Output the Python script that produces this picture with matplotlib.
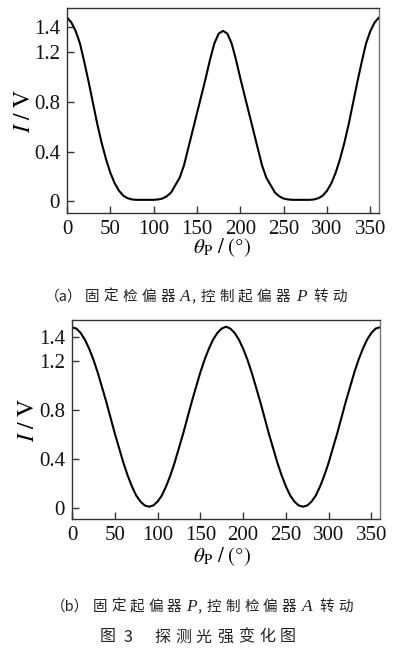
import matplotlib
matplotlib.use("Agg")
import matplotlib.pyplot as plt

plt.rcParams['mathtext.fontset'] = 'stix'
plt.rcParams['font.family'] = ['Liberation Serif', 'DejaVu Serif']

# ---- data ----
theta = list(range(0, 361, 5))

intensity_a = [1.48, 1.44, 1.37, 1.27, 1.12, 0.96, 0.79, 0.62, 0.47, 0.34,
               0.23, 0.145, 0.085, 0.045, 0.025, 0.015, 0.012, 0.012, 0.012, 0.012,
               0.012, 0.015, 0.022, 0.04, 0.07, 0.13, 0.19, 0.29, 0.43, 0.57,
               0.71, 0.85, 0.99, 1.14, 1.27, 1.35, 1.372, 1.35, 1.27, 1.14,
               0.99, 0.85, 0.71, 0.57, 0.43, 0.29, 0.19, 0.13, 0.07, 0.04,
               0.022, 0.015, 0.012, 0.012, 0.012, 0.012, 0.012, 0.015, 0.025, 0.045,
               0.085, 0.145, 0.23, 0.34, 0.47, 0.62, 0.79, 0.96, 1.12, 1.27,
               1.37, 1.44, 1.48]

intensity_b = [1.48, 1.47, 1.435, 1.38, 1.305, 1.215, 1.11, 0.99, 0.87, 0.74,
               0.61, 0.49, 0.37, 0.265, 0.175, 0.10, 0.05, 0.018, 0.008, 0.018,
               0.05, 0.10, 0.175, 0.265, 0.37, 0.49, 0.61, 0.74, 0.87, 0.99,
               1.11, 1.215, 1.305, 1.38, 1.435, 1.47, 1.485, 1.47, 1.435, 1.38,
               1.305, 1.215, 1.11, 0.99, 0.87, 0.74, 0.61, 0.49, 0.37, 0.265,
               0.175, 0.10, 0.05, 0.018, 0.008, 0.018, 0.05, 0.10, 0.175, 0.265,
               0.37, 0.49, 0.61, 0.74, 0.87, 0.99, 1.11, 1.215, 1.305, 1.38,
               1.435, 1.47, 1.48]

xticks = [0, 50, 100, 150, 200, 250, 300, 350]
yticks = [0, 0.4, 0.8, 1.2, 1.4]
ytick_labels = ["0", "0.4", "0.8", "1.2", "1.4"]

# caption tokens: (text, is_italic_latin)
caption_a = [("（a）", False), ("固", False), ("定", False), ("检", False), ("偏", False), ("器", False),
             ("A", True), (",", False), ("控", False), ("制", False), ("起", False), ("偏", False),
             ("器", False), ("P", True), ("转", False), ("动", False)]
caption_b = [("（b）", False), ("固", False), ("定", False), ("起", False), ("偏", False), ("器", False),
             ("P", True), (",", False), ("控", False), ("制", False), ("检", False), ("偏", False),
             ("器", False), ("A", True), ("转", False), ("动", False)]
fig_title = [("图", False), ("3", False), ("探", False), ("测", False), ("光", False),
             ("强", False), ("变", False), ("化", False), ("图", False)]

W, H = 395, 663
fig = plt.figure(figsize=(W / 100, H / 100), dpi=100)
fig.patch.set_facecolor('white')

def px_axes(left, top, right, bottom):
    return fig.add_axes([left / W, 1 - bottom / H, (right - left) / W, (bottom - top) / H])

ax_a = px_axes(67, 8, 379, 213)
ax_b = px_axes(72, 320, 380, 519)

setups = ((ax_a, intensity_a, (-0.094, 1.556), (25, 248), (67, 213, 312, 205)),
          (ax_b, intensity_b, (-0.093, 1.54), (29, 557), (72, 519, 308, 199)))
for ax, y, ylim, (ylx, xly), (l, b, w, h) in setups:
    ax.plot(theta, y, color='black', lw=1.5, solid_capstyle='round')
    ax.set_xlim(0, 360)
    ax.set_ylim(*ylim)
    ax.set_xticks(xticks)
    ax.set_yticks(yticks)
    ax.set_yticklabels(ytick_labels)
    ax.tick_params(axis='both', direction='in', length=5, width=1.0, color='#333333',
                   labelsize=15, pad=5, top=False, right=False, labelcolor='#111111')
    ax.tick_params(axis='y', pad=5)
    for s in ax.spines.values():
        s.set_color('#333333')
        s.set_linewidth(1.0)
    ax.spines['right'].set_color('#777777')
    ax.set_ylabel(r"$I\ /\ \mathrm{V}$", fontsize=17, va='center')
    ax.yaxis.set_label_coords((ylx - l) / w, 0.5)
    ax.set_xlabel(r"$\theta_{\mathrm{P}}\ /\ (\degree)$", fontsize=15, va='center')
    ax.xaxis.set_label_coords((222 - l) / w, -(xly - b) / h)

cjk = ['Noto Sans CJK SC', 'DejaVu Sans']
renderer = fig.canvas.get_renderer()

def spaced_text(tokens, cy, cx, fontsize, gap, extra_gaps=None):
    texts = []
    for tok, ital in tokens:
        if ital:
            t = fig.text(0, 1 - cy / H, tok, ha='left', va='center', fontsize=fontsize + 2,
                         family=['Liberation Serif'], style='italic', color='#222222')
        else:
            t = fig.text(0, 1 - cy / H, tok, ha='left', va='center', fontsize=fontsize,
                         family=cjk, color='#222222')
        texts.append(t)
    widths = [t.get_window_extent(renderer).width for t in texts]
    gaps = [gap] * (len(texts) - 1)
    if extra_gaps:
        for i, g in extra_gaps.items():
            gaps[i] = g
    total = sum(widths) + sum(gaps)
    x = cx - total / 2
    for i, t in enumerate(texts):
        t.set_x(x / W)
        x += widths[i] + (gaps[i] if i < len(gaps) else 0)
    return texts

cap_gaps = {0: 3, 5: 5, 6: 0.5, 7: 5, 12: 6, 13: 7}
spaced_text(caption_a, 297, 196, 10.5, 4.2, cap_gaps)
spaced_text(caption_b, 607, 202, 10.5, 4.0, cap_gaps)
spaced_text(fig_title, 637, 198, 11.5, 5.0, {0: 7, 1: 22})

fig.savefig('out.png', dpi=100)
